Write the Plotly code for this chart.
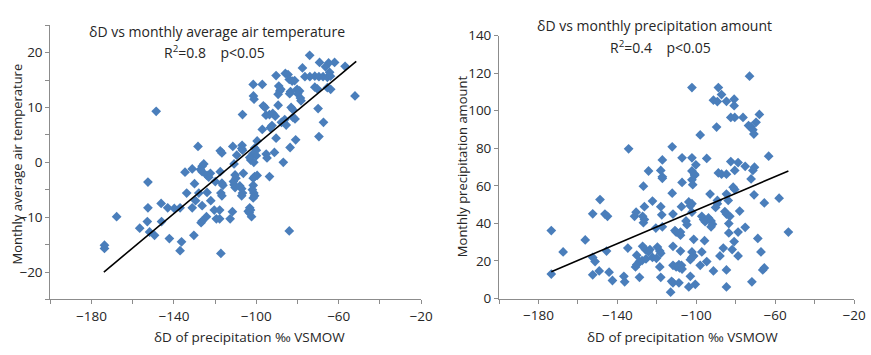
import plotly.graph_objects as go

# ---------------- Data: left panel (dD vs monthly average air temperature) ----------------
temp_pts = [
    (-148.6, 9.3), (-74.1, 19.5), (-62.0, 18.2), (-56.9, 17.5), (-52.1, 12.1), (-69.3, 18.2),
    (-64.9, 18.1), (-66.4, 17.4), (-77.6, 17.2), (-85.9, 16.2), (-84.6, 16.0), (-90.4, 15.8),
    (-76.4, 15.6), (-74.0, 15.6), (-71.6, 15.7), (-69.6, 15.6), (-67.6, 15.6), (-65.5, 15.5),
    (-64.0, 15.7), (-64.4, 16.4), (-84.0, 15.1), (-82.6, 14.8), (-81.4, 14.9), (-101.5, 14.2),
    (-97.1, 14.2), (-89.1, 13.9), (-88.1, 13.3), (-71.6, 13.7), (-70.4, 13.4), (-65.5, 13.6),
    (-63.9, 13.3), (-80.2, 13.3), (-79.0, 13.0), (-79.9, 12.5), (-83.4, 12.9), (-83.8, 12.5),
    (-88.6, 13.0), (-89.4, 12.4), (-101.4, 12.1), (-101.1, 11.5), (-78.6, 11.7), (-78.3, 11.2),
    (-70.0, 9.8), (-96.6, 10.3), (-95.8, 10.0), (-89.4, 10.4), (-83.1, 10.0), (-82.2, 9.6),
    (-106.7, 8.7), (-95.3, 8.6), (-93.6, 8.7), (-92.0, 8.9), (-90.8, 8.4), (-82.2, 8.2),
    (-81.2, 7.9), (-86.2, 7.8), (-87.8, 7.3), (-67.4, 7.3), (-92.4, 6.7), (-93.2, 6.3),
    (-85.5, 6.8), (-97.1, 6.0), (-69.6, 4.7), (-90.4, 4.4), (-80.9, 4.1), (-99.6, 3.9),
    (-83.6, 2.7), (-111.4, 2.9), (-106.9, 3.1), (-107.1, 2.5), (-128.3, 2.9), (-117.5, 2.1),
    (-116.7, 1.7), (-109.5, 1.3), (-106.7, 2.2), (-100.8, 2.6), (-100.0, 2.2), (-101.5, 1.6),
    (-100.0, 1.2), (-103.2, 0.9), (-95.2, 1.5), (-94.8, 0.8), (-91.2, 1.8), (-86.9, 0.0),
    (-102.7, 0.4), (-101.2, 0.0), (-110.8, -0.3), (-125.5, -0.3), (-126.3, -0.7), (-131.1, -1.2),
    (-127.1, -1.3), (-126.3, -1.7), (-134.6, -1.8), (-122.3, -2.0), (-123.9, -2.4), (-123.1, -2.7),
    (-117.5, -1.7), (-106.3, -2.0), (-110.3, -2.3), (-109.9, -2.9), (-93.6, -2.6), (-100.8, -2.6),
    (-99.6, -2.4), (-101.5, -2.9), (-119.9, -3.5), (-111.1, -3.5), (-110.8, -4.1), (-110.3, -4.6),
    (-101.5, -4.2), (-101.9, -5.0), (-101.2, -5.6), (-100.8, -6.1), (-101.5, -6.5), (-108.0, -4.3),
    (-107.1, -4.8), (-106.7, -5.6), (-107.1, -6.1), (-116.7, -3.8), (-116.2, -4.2), (-117.2, -5.6),
    (-116.7, -6.1), (-122.1, -7.0), (-123.9, -5.5), (-130.0, -3.9), (-133.8, -5.6), (-127.9, -5.6),
    (-129.5, -7.0), (-126.3, -7.9), (-131.1, -8.3), (-120.4, -8.7), (-117.8, -8.7), (-111.6, -9.0),
    (-103.2, -8.3), (-102.8, -8.7), (-103.9, -8.9), (-103.4, -9.2), (-102.3, -9.9), (-124.2, -9.9),
    (-119.4, -10.3), (-117.8, -10.3), (-112.7, -10.3), (-126.3, -10.7), (-126.8, -11.0), (-84.0, -12.5),
    (-137.0, -8.3), (-139.8, -8.4), (-143.0, -8.3), (-146.2, -7.5), (-152.6, -8.3), (-152.6, -3.6),
    (-152.9, -10.8), (-146.0, -10.8), (-156.6, -12.0), (-151.8, -12.7), (-149.4, -13.3), (-167.8, -9.9),
    (-142.2, -13.9), (-130.3, -13.3), (-136.3, -14.5), (-137.0, -16.1), (-117.2, -16.6),
    (-173.7, -15.1), (-173.7, -15.7),
]
temp_dD = [p[0] for p in temp_pts]
temp_val = [p[1] for p in temp_pts]
temp_fit_x = [-174.0, -51.5]
temp_fit_y = [-20.0, 18.4]

# ---------------- Data: right panel (dD vs monthly precipitation amount) ----------------
prec_pts = [
    (-73.0, 118.4), (-102.2, 112.3), (-88.8, 112.3), (-87.2, 108.6), (-91.3, 105.6), (-89.3, 104.9),
    (-84.7, 105.0), (-80.8, 106.1), (-80.8, 102.7), (-68.0, 98.0), (-82.5, 96.4), (-80.5, 96.4),
    (-76.3, 96.4), (-69.7, 93.8), (-73.5, 92.1), (-72.2, 91.5), (-71.3, 89.8), (-70.8, 87.6),
    (-89.7, 91.3), (-98.0, 87.1), (-134.3, 79.7), (-112.2, 80.8), (-107.2, 74.9), (-102.2, 74.9),
    (-100.2, 71.2), (-94.7, 74.6), (-117.2, 73.8), (-63.3, 75.8), (-82.5, 72.9), (-78.8, 72.4),
    (-75.2, 70.4), (-70.5, 69.9), (-71.3, 68.2), (-80.5, 68.2), (-124.2, 67.9), (-118.0, 68.2),
    (-88.8, 66.9), (-87.2, 66.2), (-84.7, 66.2), (-102.2, 67.9), (-100.8, 66.2), (-117.2, 64.8),
    (-72.2, 63.7), (-173.5, 36.2), (-173.5, 13.0), (-167.5, 24.8), (-156.3, 31.2), (-152.5, 45.1),
    (-148.8, 52.7), (-152.5, 21.9), (-151.3, 19.7), (-152.5, 12.6), (-149.2, 14.7), (-145.5, 25.3),
    (-146.3, 45.0), (-145.0, 43.8), (-144.2, 14.0), (-142.5, 9.6), (-136.7, 11.8), (-136.3, 8.9),
    (-134.7, 26.9), (-131.3, 43.8), (-130.5, 46.0), (-130.2, 23.1), (-128.8, 19.7), (-130.2, 18.0),
    (-130.8, 16.8), (-128.8, 11.3), (-126.8, 59.8), (-126.3, 48.9), (-127.2, 43.8), (-126.3, 42.1),
    (-126.8, 40.4), (-127.2, 27.8), (-125.8, 26.1), (-127.5, 20.2), (-125.5, 21.1), (-122.2, 51.9),
    (-123.5, 26.1), (-124.2, 24.8), (-122.2, 21.9), (-120.2, 21.4), (-120.5, 37.5), (-119.7, 27.4),
    (-118.5, 25.3), (-118.0, 24.1), (-117.2, 64.0), (-118.0, 48.9), (-117.5, 44.6), (-117.2, 38.2),
    (-118.5, 16.8), (-118.0, 11.3), (-112.2, 56.1), (-111.8, 45.0), (-110.8, 36.2), (-110.2, 35.4),
    (-111.8, 27.8), (-111.8, 17.7), (-110.2, 16.8), (-112.5, 9.2), (-111.8, 8.4), (-113.0, 3.4),
    (-108.8, 18.0), (-108.5, 16.3), (-108.8, 8.4), (-107.5, 48.9), (-107.2, 61.8), (-108.0, 35.4),
    (-108.0, 33.7), (-108.0, 25.3), (-107.5, 17.7), (-107.2, 15.7), (-105.2, 41.3), (-104.7, 39.3),
    (-103.0, 11.8), (-103.8, 6.2), (-103.8, 51.4), (-102.2, 50.5), (-103.0, 49.4), (-102.2, 63.2),
    (-101.8, 60.6), (-100.8, 65.7), (-102.2, 46.0), (-102.2, 24.8), (-101.3, 22.7), (-102.2, 21.9),
    (-103.0, 20.7), (-101.3, 31.5), (-100.5, 7.6), (-98.0, 17.7), (-97.2, 24.8), (-97.2, 43.8),
    (-96.3, 42.1), (-95.5, 40.9), (-95.8, 30.8), (-94.7, 19.7), (-93.0, 55.6), (-93.8, 42.9),
    (-92.5, 41.3), (-91.8, 39.6), (-92.5, 38.2), (-91.3, 14.7), (-89.3, 52.2), (-89.3, 50.5),
    (-90.2, 48.5), (-84.7, 55.6), (-83.8, 52.2), (-85.5, 46.3), (-84.7, 45.0), (-86.3, 26.9),
    (-88.0, 22.7), (-84.7, 15.2), (-84.7, 6.2), (-83.5, 34.9), (-83.5, 39.9), (-83.0, 43.8),
    (-81.8, 26.1), (-80.8, 30.3), (-80.5, 58.1), (-78.8, 35.4), (-78.0, 46.6), (-78.8, 22.7),
    (-75.2, 37.9), (-71.8, 8.9), (-68.8, 32.0), (-67.2, 24.8), (-66.3, 15.2), (-65.5, 16.3),
    (-65.5, 50.9), (-53.3, 35.4), (-58.0, 53.4), (-70.7, 55.2), (-81.3, 59.3),
]
prec_dD = [p[0] for p in prec_pts]
prec_val = [p[1] for p in prec_pts]
prec_fit_x = [-173.5, -53.3]
prec_fit_y = [14.3, 67.9]

# ---------------- Texts ----------------
title_left = "δD vs monthly average air temperature"
stats_left = "R<sup>2</sup>=0.8\u00a0\u00a0\u00a0\u00a0p&lt;0.05"
title_right = "δD vs monthly precipitation amount"
stats_right = "R<sup>2</sup>=0.4\u00a0\u00a0\u00a0\u00a0p&lt;0.05"
xlabel = "δD of precipitation ‰ VSMOW"
ylabel_left = "Monthly average air temperature"
ylabel_right = "Monthly precipitation amount"

MARKER = "#4A7EBB"
AXIS = "#8C8C8C"
TXT = "#262626"
FONT = "Open Sans"

fig = go.Figure()
fig.add_trace(go.Scatter(x=temp_dD, y=temp_val, mode="markers",
                         marker=dict(symbol="diamond", size=7.5, color=MARKER, line=dict(width=0)),
                         xaxis="x", yaxis="y", showlegend=False))
fig.add_trace(go.Scatter(x=temp_fit_x, y=temp_fit_y, mode="lines",
                         line=dict(color="black", width=1.6), xaxis="x", yaxis="y", showlegend=False))
fig.add_trace(go.Scatter(x=prec_dD, y=prec_val, mode="markers",
                         marker=dict(symbol="diamond", size=7.5, color=MARKER, line=dict(width=0)),
                         xaxis="x2", yaxis="y2", showlegend=False))
fig.add_trace(go.Scatter(x=prec_fit_x, y=prec_fit_y, mode="lines",
                         line=dict(color="black", width=1.6), xaxis="x2", yaxis="y2", showlegend=False))

W, H = 871, 355
def fx(px):
    return px / W
def fy(py):
    return (H - py) / H

tickfont = dict(family=FONT, size=13.5, color=TXT)
common_axis = dict(showline=True, linecolor=AXIS, linewidth=1, showgrid=False, zeroline=False,
                   ticks="outside", ticklen=4, tickcolor=AXIS, tickfont=tickfont)

fig.update_layout(
    width=W, height=H, margin=dict(l=0, r=0, t=0, b=0),
    paper_bgcolor="white", plot_bgcolor="white",
    font=dict(family=FONT, size=13, color=TXT),
    xaxis=dict(domain=[fx(51), fx(427)], range=[-200, -20], tick0=-180, dtick=40, anchor="y",
               minor=dict(dtick=20, tick0=-200, ticks="outside", ticklen=4, tickcolor=AXIS, showgrid=False),
               **common_axis),
    yaxis=dict(domain=[fy(306), fy(17)], range=[-25, 25], tick0=0, dtick=10, anchor="x",
               minor=dict(dtick=5, tick0=-25, ticks="outside", ticklen=4, tickcolor=AXIS, showgrid=False),
               **common_axis),
    xaxis2=dict(domain=[fx(506), fx(866)], range=[-200, -20], tick0=-180, dtick=40, anchor="y2",
                minor=dict(dtick=20, tick0=-200, ticks="outside", ticklen=4, tickcolor=AXIS, showgrid=False),
                **common_axis),
    yaxis2=dict(domain=[fy(305), fy(28)], range=[0, 140], tick0=0, dtick=20, anchor="x2",
                **common_axis),
)

def ann(text, x, y, angle=0, size=13):
    fig.add_annotation(text=text, x=fx(x), y=fy(y), xref="paper", yref="paper",
                       showarrow=False, textangle=angle, xanchor="center", yanchor="middle",
                       font=dict(family=FONT, size=size, color=TXT))

ann(title_left, 220, 24, size=14)
ann(stats_left, 218, 45, size=14)
ann(title_right, 664, 17, size=14)
ann(stats_right, 670, 40, size=14)
ann(xlabel, 253, 346, size=13.5)
ann(xlabel, 692, 346, size=13.5)
ann(ylabel_left, 17, 163, angle=-90)
ann(ylabel_right, 468, 166, angle=-90)

fig.write_html("out.html")
